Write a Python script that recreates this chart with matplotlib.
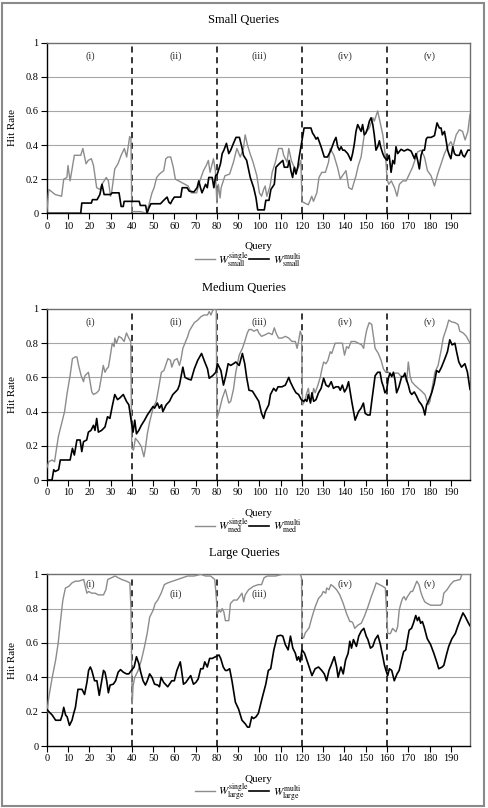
import matplotlib
matplotlib.use("Agg")
import matplotlib.pyplot as plt
from matplotlib.patches import Rectangle

plt.rcParams['font.family'] = ['Liberation Serif', 'DejaVu Serif']
plt.rcParams['mathtext.fontset'] = 'stix'

# ---- data (query, hit rate) ----
small_single_q = [0, 1, 4, 7, 8, 9.5, 10, 11, 13, 16, 17, 18.5, 19.5, 21, 22, 23.5, 25, 26, 27, 28, 29, 30, 30.5, 32,
                  33.5, 35, 36.5, 37.6, 39, 39.6, 40, 44, 47, 49.5, 50.5, 51.7, 53, 55, 56, 57, 58.3, 59.5, 60.5, 62,
                  63.5, 65, 66.5, 68, 70.5, 72, 73.7, 75, 76, 76.8, 78.4, 79.3, 80, 80.7, 81.5, 82, 83.8, 86, 87.8,
                  89.4, 91, 92.5, 93.3, 94.4, 95.6, 97, 98.8, 100, 101, 102, 102.7, 103.5, 105, 106, 107.5, 109,
                  110.7, 111.4, 113, 113.8, 115, 116, 117.5, 118.7, 119.5, 120, 121.3, 123, 124.6, 125.4, 127, 128,
                  129.3, 131, 132.5, 133.3, 135, 136.7, 138, 139, 140.7, 142, 143.5, 145.4, 146.5, 147.8, 149.3,
                  151.7, 153.3, 154, 155.6, 157, 158, 158.7, 159.5, 160, 160.8, 162, 163.5, 164.7, 165.8, 167.4, 169,
                  170.5, 172, 174.4, 176, 177.6, 179, 180.7, 182.3, 183.8, 185.4, 187, 188.5, 190, 191, 192.5, 194,
                  195.5, 196.7, 198, 199]
small_single_v = [0, 0.14, 0.11, 0.10, 0.20, 0.21, 0.28, 0.19, 0.34, 0.34, 0.38, 0.29, 0.31, 0.32, 0.28, 0.15, 0.14,
                  0.17, 0.19, 0.21, 0.19, 0.10, 0.12, 0.26, 0.29, 0.34, 0.38, 0.33, 0.45, 0.44, 0.01, 0.01, 0, 0.12,
                  0.15, 0.21, 0.23, 0.25, 0.32, 0.33, 0.33, 0.27, 0.20, 0.19, 0.18, 0.17, 0.16, 0.12, 0.12, 0.19, 0.25,
                  0.28, 0.31, 0.24, 0.32, 0.25, 0.06, 0.17, 0.09, 0.15, 0.22, 0.23, 0.30, 0.38, 0.33, 0.38, 0.46,
                  0.40, 0.35, 0.30, 0.22, 0.12, 0.10, 0.14, 0.16, 0.10, 0.16, 0.24, 0.30, 0.38, 0.38, 0.34, 0.30,
                  0.38, 0.31, 0.28, 0.25, 0.28, 0.31, 0.07, 0.06, 0.05, 0.10, 0.07, 0.12, 0.21, 0.24, 0.24, 0.30,
                  0.38, 0.34, 0.27, 0.20, 0.22, 0.25, 0.15, 0.14, 0.22, 0.28, 0.33, 0.46, 0.50, 0.56, 0.54, 0.60,
                  0.52, 0.46, 0.39, 0.30, 0.20, 0.17, 0.19, 0.15, 0.10, 0.17, 0.19, 0.19, 0.23, 0.27, 0.36, 0.37,
                  0.33, 0.25, 0.22, 0.16, 0.23, 0.29, 0.35, 0.39, 0.42, 0.39, 0.46, 0.49, 0.48, 0.43, 0.48, 0.58]

small_multi_q = [0, 16, 16.5, 21, 21.5, 23.7, 25, 26, 27, 30, 30.8, 34, 35, 36, 36.4, 39, 40, 43.5, 44, 46.5, 47.2,
                 48, 49, 53.5, 55, 56.6, 57.4, 58.2, 59, 60, 63, 63.7, 66, 67, 69.2, 70.7, 71.5, 72.3, 73, 74.7,
                 75.5, 76.2, 77.8, 78.6, 79.4, 80.2, 81.7, 82.5, 83.3, 84.5, 85.6, 86.5, 87.8, 89, 90.6, 91.7, 92.5,
                 94, 95.7, 97.3, 98.4, 99.2, 102.3, 103, 104.5, 105.4, 107, 107.8, 109.3, 111, 111.7, 113.3, 114,
                 114.8, 115.6, 116.4, 117.2, 118, 118.7, 120, 121, 122.7, 124.2, 125, 125.8, 126.6, 127.4, 128, 129,
                 130.5, 132, 133.6, 135.2, 136, 136.8, 137.6, 138.4, 139.2, 140, 141.5, 142.3, 143, 143.8, 144.6,
                 145.4, 146.2, 147, 147.8, 148.5, 149.3, 150, 150.9, 151.7, 152.5, 153.3, 154, 154.8, 155.6, 156.4,
                 157, 158, 158.7, 160, 161, 161.9, 162.7, 163.5, 164.2, 165, 166.6, 168, 169.7, 171.3, 172.9, 173.6,
                 174.4, 175.2, 176, 176.8, 177.6, 178.4, 179, 180.7, 182.3, 183.5, 184.6, 185.4, 186, 187, 187.8,
                 188.5, 189.3, 190, 190.9, 191.7, 192.5, 194, 194.8, 195.6, 196.4, 198, 199]
small_multi_v = [0, 0, 0.06, 0.06, 0.08, 0.08, 0.11, 0.17, 0.11, 0.11, 0.12, 0.12, 0.04, 0.04, 0.07, 0.07, 0.07,
                 0.07, 0.046, 0.046, 0, 0.03, 0.056, 0.056, 0.076, 0.095, 0.066, 0.056, 0.076, 0.095, 0.095, 0.15,
                 0.15, 0.13, 0.125, 0.15, 0.19, 0.15, 0.12, 0.17, 0.15, 0.21, 0.21, 0.15, 0.22, 0.23, 0.29, 0.35,
                 0.37, 0.41, 0.35, 0.37, 0.41, 0.445, 0.445, 0.39, 0.34, 0.31, 0.21, 0.15, 0.09, 0.02, 0.02, 0.076,
                 0.076, 0.14, 0.17, 0.27, 0.29, 0.31, 0.27, 0.27, 0.31, 0.25, 0.21, 0.27, 0.23, 0.27, 0.33, 0.425,
                 0.50, 0.50, 0.50, 0.47, 0.455, 0.435, 0.445, 0.425, 0.39, 0.33, 0.33, 0.37, 0.425, 0.445, 0.39,
                 0.37, 0.39, 0.37, 0.37, 0.35, 0.33, 0.31, 0.35, 0.405, 0.48, 0.52, 0.50, 0.48, 0.52, 0.46, 0.47,
                 0.50, 0.54, 0.56, 0.52, 0.46, 0.37, 0.39, 0.425, 0.39, 0.35, 0.33, 0.31, 0.34, 0.24, 0.31, 0.29,
                 0.39, 0.35, 0.375, 0.365, 0.375, 0.365, 0.32, 0.35, 0.31, 0.26, 0.34, 0.37, 0.37, 0.435, 0.445,
                 0.445, 0.455, 0.53, 0.50, 0.50, 0.46, 0.48, 0.425, 0.37, 0.34, 0.32, 0.39, 0.35, 0.34, 0.34, 0.37,
                 0.34, 0.33, 0.37, 0.37]

med_single_q = [0, 1, 2.5, 3.7, 4.8, 5.6, 7.2, 8.4, 9.5, 11, 12.1, 13.4, 14.2, 15, 16.2, 17.3, 18, 19.6, 20.4, 21.2,
                22, 23.5, 24.6, 25.5, 26.6, 27.4, 28.2, 29, 29.7, 30.8, 31.7, 32, 32.8, 33.9, 35.2, 36.4, 37.5, 38.6,
                39.5, 40, 40.8, 41.7, 43, 44.5, 45.7, 46.4, 47.3, 48.4, 50, 50.7, 51.5, 52.6, 53.9, 55.1, 56.2, 57,
                58.2, 58.8, 60, 61.3, 62.4, 63.2, 64, 65, 66.3, 67, 67.9, 69.4, 71, 72.5, 74, 75.6, 76.4, 77.2, 78,
                78.8, 79.7, 80, 81, 82.6, 84, 85.6, 86.5, 87.8, 88.9, 90.5, 91.2, 92, 93.1, 94.3, 95.1, 96.2, 97.4,
                99, 99.7, 101, 102.8, 104.4, 106, 107, 107.8, 109, 110.6, 112.2, 113.8, 115.3, 116.9, 117.7, 118.4,
                119.2, 119.8, 120.3, 121.2, 122.3, 123, 124, 124.7, 125.5, 126.2, 127.5, 128.6, 129.4, 130.2, 131.3,
                132.2, 133.3, 134, 135.6, 137, 138, 139, 140, 141, 141.9, 143.1, 145, 146.6, 148.1, 149, 149.7,
                150.5, 151.6, 152.8, 153.6, 154.4, 155.9, 157.2, 158.3, 159.4, 160, 160.6, 162.2, 163.8, 165.3,
                166.9, 168.4, 169.2, 170, 170.8, 171.6, 173, 174.7, 176.2, 177.8, 179.4, 180.2, 181, 182.5, 184,
                185.6, 186.4, 188, 189, 190.3, 191.9, 193.4, 194.2, 195.8, 197.3, 199]
med_single_v = [0.07, 0.107, 0.117, 0.107, 0.2, 0.26, 0.34, 0.40, 0.5, 0.61, 0.71, 0.72, 0.72, 0.67, 0.61, 0.575,
                0.61, 0.63, 0.575, 0.515, 0.5, 0.51, 0.525, 0.585, 0.67, 0.63, 0.65, 0.66, 0.71, 0.80, 0.78, 0.83,
                0.80, 0.84, 0.83, 0.81, 0.86, 0.83, 0.81, 0.185, 0.175, 0.244, 0.225, 0.195, 0.136, 0.185, 0.27,
                0.34, 0.42, 0.44, 0.46, 0.535, 0.63, 0.64, 0.68, 0.71, 0.70, 0.66, 0.70, 0.71, 0.67, 0.71, 0.77,
                0.80, 0.84, 0.87, 0.89, 0.92, 0.935, 0.955, 0.965, 0.965, 0.985, 0.965, 0.99, 1.0, 1.0, 0.36, 0.40,
                0.48, 0.53, 0.45, 0.46, 0.53, 0.63, 0.73, 0.75, 0.77, 0.81, 0.86, 0.88, 0.88, 0.87, 0.88, 0.86, 0.84,
                0.85, 0.86, 0.85, 0.89, 0.86, 0.83, 0.83, 0.84, 0.83, 0.81, 0.81, 0.77, 0.81, 0.87, 0.85, 0.44,
                0.46, 0.51, 0.536, 0.46, 0.48, 0.536, 0.51, 0.555, 0.6, 0.65, 0.69, 0.68, 0.70, 0.75, 0.74, 0.80,
                0.80, 0.80, 0.80, 0.73, 0.78, 0.77, 0.81, 0.81, 0.80, 0.79, 0.77, 0.83, 0.88, 0.92, 0.91, 0.84,
                0.77, 0.74, 0.70, 0.65, 0.63, 0.64, 0.63, 0.61, 0.625, 0.625, 0.6, 0.61, 0.575, 0.69, 0.61, 0.575,
                0.555, 0.536, 0.52, 0.5, 0.44, 0.46, 0.525, 0.63, 0.67, 0.77, 0.83, 0.89, 0.935, 0.925, 0.92, 0.91,
                0.87, 0.86, 0.84, 0.80]

med_multi_q = [0, 2.5, 3.3, 4, 5.6, 6.4, 8.7, 11, 12.1, 13, 14.2, 15.7, 16.5, 17.3, 18.8, 19.6, 20.8, 22, 22.7, 23.5,
               24.3, 25.8, 27.4, 28.6, 29.7, 30.8, 32, 33.3, 34.4, 36, 37.5, 38.6, 39.8, 40.6, 41.4, 42.2, 43.3,
               44.5, 46, 47.3, 48.4, 50, 50.7, 52, 53, 54, 54.6, 56.2, 57.7, 59.3, 60.9, 61.6, 62.4, 64, 65, 66.6,
               67.9, 69.4, 71, 72.8, 74, 75.6, 76.4, 78, 79.5, 80.3, 81.9, 83.1, 84.2, 85.3, 86.5, 87.8, 88.9, 90.5,
               92, 93.1, 94, 95.1, 96.7, 98.2, 99.7, 101, 102, 102.8, 104.4, 105.2, 106.7, 107.8, 108.75, 110.6,
               112.2, 113.8, 114.5, 116, 117.2, 118.4, 119.7, 120.8, 121.6, 122.3, 123, 124, 124.7, 125.5, 126.6,
               127.8, 129, 130.2, 131.3, 132.5, 133.75, 134.8, 136, 137.2, 138, 139, 140, 141, 141.9, 142.7, 143.4,
               145, 146.6, 147.8, 148.9, 149.7, 150.9, 152, 152.8, 154.4, 155.6, 156.7, 157.5, 158.3, 159, 159.8,
               160.6, 161.4, 162.2, 163, 163.75, 164.5, 165.6, 166.9, 167.7, 168.4, 169.2, 170, 170.8, 171.6, 172.8,
               173.9, 175, 176.25, 177, 177.8, 178.6, 179.4, 181, 182.2, 183.3, 184.4, 185.6, 187.2, 188.4, 189.5,
               190.6, 191.9, 192.7, 193.75, 195, 196.6, 197.8, 199]
med_multi_v = [0, 0, 0.06, 0.05, 0.06, 0.117, 0.117, 0.117, 0.185, 0.146, 0.234, 0.234, 0.166, 0.224, 0.234, 0.28,
               0.29, 0.32, 0.29, 0.36, 0.28, 0.29, 0.31, 0.37, 0.36, 0.43, 0.50, 0.47, 0.48, 0.50, 0.46, 0.44, 0.34,
               0.28, 0.35, 0.27, 0.29, 0.32, 0.35, 0.38, 0.40, 0.43, 0.42, 0.45, 0.42, 0.44, 0.40, 0.44, 0.46, 0.50,
               0.52, 0.53, 0.555, 0.66, 0.60, 0.59, 0.585, 0.65, 0.70, 0.74, 0.70, 0.65, 0.595, 0.61, 0.63, 0.68,
               0.64, 0.555, 0.61, 0.68, 0.67, 0.68, 0.69, 0.67, 0.74, 0.68, 0.60, 0.525, 0.52, 0.49, 0.46, 0.39,
               0.36, 0.40, 0.44, 0.50, 0.536, 0.52, 0.545, 0.545, 0.555, 0.60, 0.575, 0.536, 0.51, 0.50, 0.47,
               0.46, 0.47, 0.46, 0.50, 0.45, 0.51, 0.46, 0.47, 0.51, 0.536, 0.595, 0.555, 0.545, 0.575, 0.536,
               0.545, 0.545, 0.525, 0.555, 0.515, 0.536, 0.575, 0.515, 0.46, 0.35, 0.40, 0.42, 0.45, 0.39, 0.38,
               0.38, 0.46, 0.61, 0.63, 0.63, 0.575, 0.545, 0.51, 0.525, 0.595, 0.625, 0.605, 0.63, 0.585, 0.51,
               0.545, 0.605, 0.605, 0.625, 0.585, 0.555, 0.515, 0.5, 0.515, 0.49, 0.46, 0.44, 0.42, 0.38, 0.44,
               0.46, 0.51, 0.565, 0.64, 0.63, 0.66, 0.71, 0.75, 0.82, 0.79, 0.80, 0.75, 0.69, 0.66, 0.68, 0.63, 0.53]

large_single_q = [0, 1, 2.6, 4.2, 5.4, 6.5, 7.6, 8.8, 10.4, 11.9, 13.5, 15, 17.4, 18.1, 18.9, 19.7, 21.2, 22.8, 24.3,
                  26.7, 27.8, 28.7, 30.5, 32.1, 33.6, 35.2, 37.5, 39.1, 39.6, 40.2, 40.6, 41.4, 43, 44.5, 46, 47.3,
                  48.4, 50, 51, 52.2, 53.8, 55.3, 56.9, 59.2, 61.6, 63.9, 66.2, 69.3, 72.4, 74.7, 77, 79, 79.7, 80.2,
                  81, 81.8, 82.5, 83.3, 84, 85.6, 86.4, 87.9, 89.5, 90.7, 91.8, 92.6, 93.3, 94.9, 97.2, 99.5, 101,
                  102.2, 103.7, 107.6, 110.7, 113.8, 119.2, 119.8, 120, 120.8, 121.6, 122.3, 123.4, 124.7, 126.2,
                  127.8, 129.3, 130, 131.2, 131.6, 132.7, 133.6, 134.7, 135.5, 136.3, 137.8, 139.4, 141, 142.5, 143.3,
                  144, 144.8, 146.4, 147.9, 149.5, 151, 152.6, 154.1, 154.9, 156.4, 158, 159.2, 159.7, 160.3, 161.6,
                  162.6, 164.2, 165, 165.7, 166.5, 167.3, 168, 168.8, 169.6, 171.2, 172, 172.7, 174, 175, 175.8,
                  176.6, 177.7, 178.9, 180.5, 182.8, 185.1, 185.9, 186.7, 188.2, 189.8, 191.3, 192.9, 194.4, 195.2,
                  199]
large_single_v = [0.19, 0.285, 0.40, 0.5, 0.6, 0.73, 0.85, 0.92, 0.93, 0.95, 0.96, 0.96, 0.97, 0.93, 0.89, 0.90,
                  0.89, 0.89, 0.88, 0.88, 0.91, 0.97, 0.98, 0.99, 0.98, 0.97, 0.96, 0.95, 0.80, 0.245, 0.35, 0.40,
                  0.44, 0.5, 0.58, 0.66, 0.75, 0.79, 0.83, 0.85, 0.89, 0.94, 0.95, 0.96, 0.97, 0.98, 0.99, 0.99, 1.0,
                  0.99, 0.99, 0.97, 0.87, 0.77, 0.79, 0.78, 0.80, 0.78, 0.73, 0.73, 0.83, 0.85, 0.85, 0.87, 0.89,
                  0.84, 0.88, 0.91, 0.93, 0.94, 0.94, 0.98, 0.99, 0.99, 1.0, 1.0, 1.0, 0.98, 0.64, 0.63, 0.66, 0.67,
                  0.69, 0.75, 0.81, 0.86, 0.88, 0.90, 0.89, 0.92, 0.91, 0.94, 0.93, 0.92, 0.91, 0.88, 0.83, 0.77,
                  0.725, 0.725, 0.715, 0.685, 0.705, 0.715, 0.76, 0.81, 0.87, 0.92, 0.95, 0.94, 0.93, 0.92, 0.80,
                  0.655, 0.655, 0.685, 0.665, 0.695, 0.79, 0.83, 0.86, 0.87, 0.85, 0.87, 0.90, 0.90, 0.92, 0.96, 0.94,
                  0.90, 0.87, 0.84, 0.83, 0.82, 0.82, 0.82, 0.83, 0.89, 0.91, 0.94, 0.96, 0.965, 0.97, 1.0, 1.0]

large_multi_q = [0, 1, 2.6, 4.2, 6.5, 7.3, 8, 8.9, 9.6, 10.7, 11.9, 12.7, 13.5, 14.7, 16.6, 17.8, 18.9, 19.7, 20.5,
                 21.2, 22.5, 23.6, 24.7, 25.9, 26.7, 27.4, 28.2, 29, 29.8, 31.3, 32.4, 33.6, 34.7, 36, 37.5, 38.6,
                 39.8, 41.1, 42.2, 43.3, 44.2, 45.3, 46.4, 47.3, 48.4, 49.5, 50.7, 52.2, 53, 53.8, 55, 56.1, 56.9,
                 57.7, 58.8, 60, 61.2, 62.8, 63.4, 64.3, 65.4, 66.5, 67.7, 69, 70.1, 71.2, 72.4, 73.5, 74.3, 75.5,
                 76.6, 77.8, 78.6, 80.2, 81, 81.8, 83, 84, 84.8, 86, 87.1, 88.7, 90.2, 91.8, 93.3, 94.4, 95.3, 96.4,
                 97.2, 98.4, 99.5, 101.4, 103, 104.2, 105.3, 106.8, 108.4, 110, 111, 112.2, 113.5, 114.6, 115.7,
                 116.9, 117.7, 118.4, 119.2, 120, 121.2, 122.3, 123.4, 124.7, 126.2, 127.8, 129.3, 130.5, 131.6,
                 132.7, 134, 135.2, 136.3, 137, 138.3, 139.4, 140.5, 141.7, 142.5, 143.3, 144.2, 145.6, 146.7, 147.9,
                 149.1, 150.2, 151, 152.2, 153.3, 154.4, 155.7, 156.9, 158, 158.8, 159.5, 160.3, 161.1, 162.2, 163.4,
                 164.7, 165.7, 166.8, 167.8, 168.8, 169.6, 170.4, 171.5, 172.4, 173.5, 174.3, 175, 175.8, 176.6,
                 177.4, 178.9, 180.5, 182, 183.6, 184.3, 185.9, 186.7, 187.9, 189, 190.5, 192.1, 193.2, 194.4, 195.7,
                 196.7, 197.5, 198.3, 199]
large_multi_v = [0.215, 0.20, 0.18, 0.15, 0.15, 0.18, 0.225, 0.18, 0.17, 0.12, 0.15, 0.19, 0.225, 0.33, 0.33, 0.30,
                 0.37, 0.44, 0.46, 0.44, 0.38, 0.38, 0.295, 0.38, 0.44, 0.43, 0.38, 0.31, 0.355, 0.36, 0.38, 0.43,
                 0.445, 0.43, 0.42, 0.42, 0.44, 0.46, 0.52, 0.48, 0.43, 0.38, 0.355, 0.38, 0.42, 0.40, 0.36, 0.355,
                 0.345, 0.40, 0.37, 0.355, 0.345, 0.36, 0.38, 0.38, 0.44, 0.49, 0.44, 0.36, 0.37, 0.39, 0.41, 0.36,
                 0.37, 0.39, 0.45, 0.45, 0.49, 0.46, 0.51, 0.51, 0.515, 0.525, 0.53, 0.51, 0.46, 0.44, 0.44, 0.45,
                 0.38, 0.255, 0.215, 0.15, 0.13, 0.11, 0.11, 0.17, 0.16, 0.17, 0.19, 0.285, 0.36, 0.44, 0.45, 0.56,
                 0.64, 0.645, 0.64, 0.59, 0.56, 0.64, 0.57, 0.54, 0.50, 0.52, 0.49, 0.56, 0.54, 0.50, 0.46, 0.41,
                 0.45, 0.46, 0.44, 0.42, 0.38, 0.44, 0.48, 0.52, 0.46, 0.40, 0.46, 0.42, 0.50, 0.54, 0.61, 0.57,
                 0.62, 0.58, 0.64, 0.67, 0.685, 0.64, 0.62, 0.57, 0.58, 0.62, 0.645, 0.59, 0.52, 0.47, 0.44, 0.41,
                 0.45, 0.44, 0.38, 0.42, 0.44, 0.50, 0.55, 0.56, 0.62, 0.675, 0.685, 0.715, 0.76, 0.73, 0.75, 0.715,
                 0.725, 0.695, 0.625, 0.59, 0.54, 0.48, 0.45, 0.46, 0.47, 0.53, 0.58, 0.625, 0.655, 0.695, 0.735,
                 0.775, 0.755, 0.735, 0.715, 0.70]

titles = ["Small Queries", "Medium Queries", "Large Queries"]
sizes = ["small", "med", "large"]
phases = ["(i)", "(ii)", "(iii)", "(iv)", "(v)"]
phase_x = [20.5, 60.5, 100, 140, 180]
phase_y = [[0.92] * 5, [0.92] * 5, [0.94, 0.885, 0.885, 0.94, 0.94]]
phase_bounds = [40, 80, 120, 160]
x_ticks = list(range(0, 200, 10))
y_ticks = [0, 0.2, 0.4, 0.6, 0.8, 1]
y_labels = ["0", "0.2", "0.4", "0.6", "0.8", "1"]

series = [
    (small_single_q, small_single_v, small_multi_q, small_multi_v),
    (med_single_q, med_single_v, med_multi_q, med_multi_v),
    (large_single_q, large_single_v, large_multi_q, large_multi_v),
]

W, H = 488, 808
fig = plt.figure(figsize=(W / 100, H / 100), dpi=100)
fig.patches.append(Rectangle((2 / W, 2 / H), 482 / W, 803 / H, transform=fig.transFigure,
                             fill=False, edgecolor='#8a8a8a', lw=1.5))

# axes pixel boxes: (top, bottom) of plot area and title centre
tops = [42.7, 309, 574.3]
bottoms = [213.3, 480, 746]
title_y = [20, 287.7, 553]
left_px, right_px = 46.7, 470

for i in range(3):
    ax = fig.add_axes([left_px / W, 1 - bottoms[i] / H, (right_px - left_px) / W, (bottoms[i] - tops[i]) / H])
    sq, sv, mq, mv = series[i]

    for yv in y_ticks[1:-1]:
        ax.axhline(yv, color='#a6a6a6', lw=0.8, zorder=1)
    for xb in phase_bounds:
        ax.axvline(xb, color='black', lw=1.1, dashes=(4, 3), zorder=2)

    ax.plot(sq, sv, color='#8c8c8c', lw=1.0, zorder=3,
            label=r'$W^{\mathrm{single}}_{\mathrm{%s}}$' % sizes[i])
    ax.plot(mq, mv, color='black', lw=1.2, zorder=4,
            label=r'$W^{\mathrm{multi}}_{\mathrm{%s}}$' % sizes[i])

    for lab, px, py in zip(phases, phase_x, phase_y[i]):
        ax.text(px, py, lab, ha='center', va='center', fontsize=7.5, color='#333333', zorder=5)

    ax.set_xlim(0, 199)
    ax.set_ylim(0, 1)
    ax.set_xticks(x_ticks)
    ax.set_yticks(y_ticks)
    ax.set_yticklabels(y_labels)
    ax.tick_params(direction='out', length=4, width=0.8, labelsize=7.5, pad=2, color='black')
    for side in ['left', 'bottom']:
        ax.spines[side].set_color('black')
        ax.spines[side].set_linewidth(1.0)
    for side in ['top', 'right']:
        ax.spines[side].set_color('#6e6e6e')
        ax.spines[side].set_linewidth(1.0)

    ax.set_xlabel('Query', fontsize=8)
    ax.xaxis.set_label_coords(0.5, -28.5 / (bottoms[i] - tops[i]))
    ax.set_ylabel('Hit Rate', fontsize=8)
    ax.yaxis.set_label_coords(-29.5 / (right_px - left_px), 0.5)

    fig.text(0.5, 1 - title_y[i] / H, titles[i], ha='center', va='center', fontsize=9)

    ax.legend(loc='center', bbox_to_anchor=(0.476, -46 / (bottoms[i] - tops[i])), ncol=2, frameon=False,
              fontsize=8, handlelength=1.8, handletextpad=0.3, columnspacing=0.0, borderpad=0)

fig.savefig('out.png', dpi=100)
